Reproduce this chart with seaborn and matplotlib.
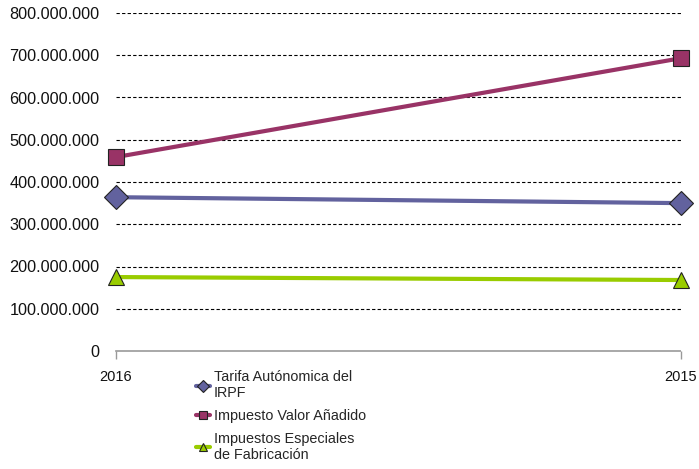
import matplotlib
matplotlib.use("Agg")
import matplotlib.pyplot as plt
import seaborn as sns
import pandas as pd
from matplotlib.ticker import FuncFormatter

years = ["2016", "2015"]
series_names = ["Tarifa Autónomica del\nIRPF", "Impuesto Valor Añadido", "Impuestos Especiales\nde Fabricación"]
irpf = [364_000_000, 350_000_000]
iva = [459_000_000, 693_000_000]
ief = [175_000_000, 168_000_000]
colors = ["#62629E", "#993366", "#99CC00"]
markers = ["D", "s", "^"]

rows = []
for name, vals in zip(series_names, [irpf, iva, ief]):
    for i, (y, v) in enumerate(zip(years, vals)):
        rows.append({"pos": i, "year": y, "value": v, "serie": name})
df = pd.DataFrame(rows)

sns.set_style("white")
plt.rcParams['font.family'] = ['Liberation Sans', 'DejaVu Sans']

fig = plt.figure(figsize=(6.99, 4.69), dpi=100)
ax = fig.add_axes([116/699, 1-351/469, (681-116)/699, (351-13)/469])

sns.lineplot(data=df, x="pos", y="value", hue="serie", style="serie",
             palette=colors, markers=markers, dashes=False, linewidth=3,
             markersize=12, markeredgecolor="#222222", markeredgewidth=0.8,
             ax=ax, legend=True, clip_on=False, zorder=3)

ax.set_xlim(0, 1)
ax.set_ylim(0, 800_000_000)
ax.set_yticks(range(0, 800_000_001, 100_000_000))
ax.yaxis.set_major_formatter(FuncFormatter(lambda v, p: f"{int(v):,}".replace(",", ".")))
ax.set_xticks([0, 1])
ax.set_xticklabels(years)
ax.set_xlabel("")
ax.set_ylabel("")
for v in range(100_000_000, 800_000_001, 100_000_000):
    ax.axhline(v, color="black", linestyle=(0, (3, 2)), linewidth=0.8, zorder=1)
for s in ["top", "right", "left"]:
    ax.spines[s].set_visible(False)
ax.spines["bottom"].set_color("#999999")
ax.spines["bottom"].set_linestyle((0, (2.5, 1)))
ax.spines["bottom"].set_linewidth(1.2)
ax.tick_params(axis="y", left=False, length=0, labelsize=11.7, pad=12, colors="#111111")
ax.tick_params(axis="x", bottom=True, length=6, width=1, color="#999999", labelsize=10.5,
               pad=8, labelcolor="#111111", direction="out")

handles, labels = ax.get_legend_handles_labels()
ax.get_legend().remove()
leg = fig.legend(handles, labels, loc="upper left", bbox_to_anchor=(196/699, 1-370/469),
                 frameon=False, fontsize=10.4, handlelength=1.0, handletextpad=0.25,
                 labelspacing=0.6, borderaxespad=0, borderpad=0)
for h in leg.legend_handles:
    h.set_markersize(6)
    h.set_linewidth(3)

fig.savefig("out.png", dpi=100)
